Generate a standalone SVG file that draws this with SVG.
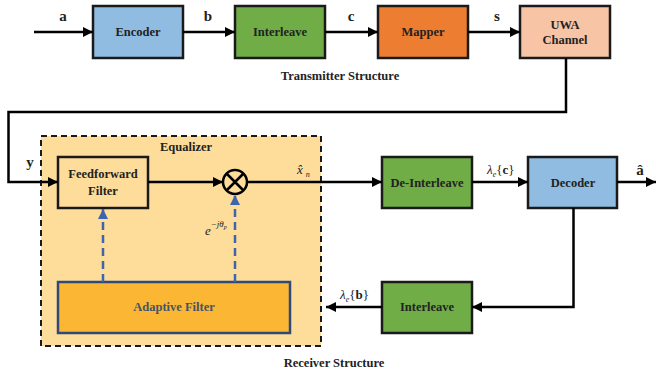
<svg xmlns="http://www.w3.org/2000/svg" width="656" height="373" viewBox="0 0 656 373">
<defs>
<marker id="ah" viewBox="0 0 10 10" refX="10" refY="5" markerWidth="10" markerHeight="10" markerUnits="userSpaceOnUse" orient="auto"><path d="M0,0 L10,5 L0,10 z" fill="#000"/></marker>
<marker id="ahb" viewBox="0 0 10 10" refX="10" refY="5" markerWidth="10" markerHeight="10" markerUnits="userSpaceOnUse" orient="auto"><path d="M0,0 L10,5 L0,10 z" fill="#3d64ad"/></marker>
</defs>
<style>
text{font-family:'Liberation Serif','Times New Roman',Times,serif}
.box{stroke:#1a1a1a;stroke-width:2.5}
.t{font-weight:bold;font-size:12.5px;fill:#222;text-anchor:middle}
.lab{font-weight:bold;font-size:15px;fill:#222;text-anchor:middle}
.m{font-style:italic;font-size:13px;fill:#222}
.w{fill:none;stroke:#000;stroke-width:2.5}
.d{fill:none;stroke:#3d64ad;stroke-width:2.5;stroke-dasharray:8,5}
</style>
<rect width="656" height="373" fill="#fff"/>
<g id="equalizer">
<rect x="41" y="136" width="280" height="210" fill="#fedd9a" stroke="#1a1a1a" stroke-width="2" stroke-dasharray="6,4"/>
<text class="t" x="186" y="151">Equalizer</text>
</g>
<g id="encoder"><rect class="box" x="93" y="6" width="90" height="52" fill="#8fbce0"/><text class="t" x="138" y="36">Encoder</text></g>
<g id="interleave1"><rect class="box" x="235" y="6" width="90" height="52" fill="#70ad47"/><text class="t" x="280" y="36">Interleave</text></g>
<g id="mapper"><rect class="box" x="378" y="6" width="90" height="52" fill="#ed7d31"/><text class="t" x="423" y="36">Mapper</text></g>
<g id="uwa"><rect class="box" x="520" y="6" width="90" height="52" fill="#f8c4a6"/><text class="t" x="565" y="29">UWA</text><text class="t" x="565" y="44">Channel</text></g>
<text class="t" x="340" y="80">Transmitter Structure</text>
<g id="feedforward"><rect class="box" x="58" y="157" width="90" height="51" fill="#fedd9a"/><text class="t" x="103" y="178">Feedforward</text><text class="t" x="103" y="195">Filter</text></g>
<g id="mult"><circle cx="235" cy="182" r="12" fill="#fedd9a" stroke="#000" stroke-width="2.5"/><path d="M226.5,173.5 L243.5,190.5 M243.5,173.5 L226.5,190.5" stroke="#000" stroke-width="2.5"/></g>
<g id="adaptive"><rect x="58" y="282" width="232" height="51" fill="#fbb733" stroke="#2f4a7a" stroke-width="2.5"/><text class="t" x="174" y="311" style="fill:#44546a">Adaptive Filter</text></g>
<g id="deinterleave"><rect class="box" x="382" y="157" width="90" height="51" fill="#70ad47"/><text class="t" x="427" y="187">De-Interleave</text></g>
<g id="decoder"><rect class="box" x="528" y="157" width="89" height="51" fill="#8fbce0"/><text class="t" x="573" y="187">Decoder</text></g>
<g id="interleave2"><rect class="box" x="382" y="282" width="90" height="51" fill="#70ad47"/><text class="t" x="427" y="311">Interleave</text></g>
<text class="t" x="334" y="367">Receiver Structure</text>
<g id="connectors">
<line class="w" x1="34" y1="32" x2="93" y2="32" marker-end="url(#ah)"/>
<line class="w" x1="183" y1="32" x2="235" y2="32" marker-end="url(#ah)"/>
<line class="w" x1="325" y1="32" x2="378" y2="32" marker-end="url(#ah)"/>
<line class="w" x1="468" y1="32" x2="520" y2="32" marker-end="url(#ah)"/>
<path class="w" d="M566,58 V112 H8.5 V182 H58" marker-end="url(#ah)"/>
<line class="w" x1="148" y1="182" x2="223" y2="182" marker-end="url(#ah)"/>
<line class="w" x1="247" y1="182" x2="382" y2="182" marker-end="url(#ah)"/>
<line class="w" x1="472" y1="182" x2="528" y2="182" marker-end="url(#ah)"/>
<line class="w" x1="617" y1="182" x2="656" y2="182" marker-end="url(#ah)"/>
<path class="w" d="M573.5,208 V307 H472" marker-end="url(#ah)"/>
<line class="w" x1="382" y1="307" x2="326" y2="307" marker-end="url(#ah)"/>
<line class="d" x1="103" y1="282" x2="103" y2="209" marker-end="url(#ahb)"/>
<line class="d" x1="235" y1="282" x2="235" y2="195" marker-end="url(#ahb)"/>
</g>
<text class="lab" x="63" y="21">a</text>
<text class="lab" x="208" y="21">b</text>
<text class="lab" x="351" y="21">c</text>
<text class="lab" x="497" y="21">s</text>
<text class="lab" x="30" y="167">y</text>
<text class="lab" x="640" y="175">â</text>
<text class="m" x="297" y="174">x̂<tspan font-size="8" dy="3" dx="3">n</tspan></text>
<text class="m" x="487" y="174">λ<tspan font-size="8" dy="3">e</tspan><tspan dy="-3" font-style="normal">{</tspan><tspan font-style="normal" font-weight="bold">c</tspan><tspan font-style="normal">}</tspan></text>
<text class="m" x="340" y="299">λ<tspan font-size="8" dy="3">e</tspan><tspan dy="-3" font-style="normal">{</tspan><tspan font-style="normal" font-weight="bold">b</tspan><tspan font-style="normal">}</tspan></text>
<text class="m" x="205" y="235" font-size="15">e<tspan font-size="9" dy="-8">−jθ</tspan><tspan font-size="6" dy="2">p</tspan></text>
</svg>
